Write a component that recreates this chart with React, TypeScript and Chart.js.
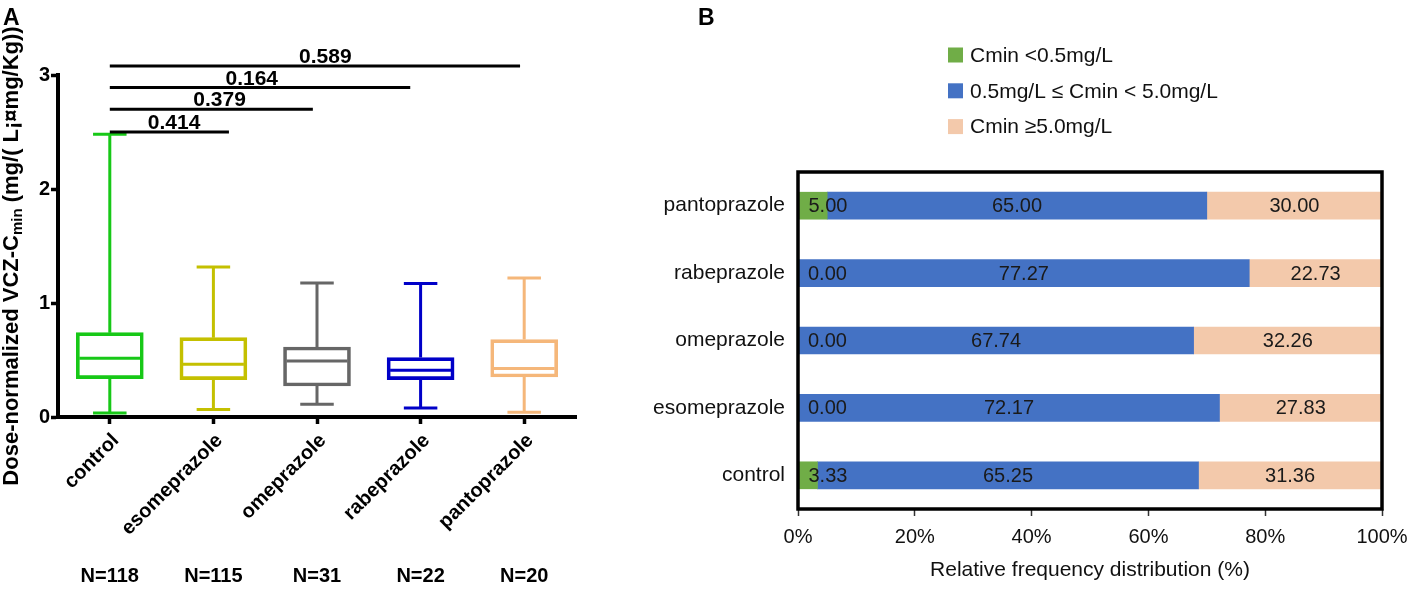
import React, { useEffect, useRef } from "react";
import { Chart, registerables } from "chart.js";
Chart.register(...registerables);

const FONT = "'Liberation Sans', Arial, Helvetica, sans-serif";

// ---------- Panel A data ----------
const groups = ["control", "esomeprazole", "omeprazole", "rabeprazole", "pantoprazole"];
const groupN = ["N=118", "N=115", "N=31", "N=22", "N=20"];
const whiskerMin = [0.035, 0.065, 0.111, 0.079, 0.041];
const q1 = [0.337, 0.328, 0.272, 0.328, 0.351];
const median = [0.515, 0.462, 0.491, 0.41, 0.425];
const q3 = [0.74, 0.696, 0.614, 0.521, 0.679];
const whiskerMax = [2.48, 1.316, 1.175, 1.17, 1.22];
const boxColors = ["#17c817", "#c4c000", "#666666", "#0000c8", "#f5b77a"];
const yMaxA = 3;

const sigLabels = ["0.414", "0.379", "0.164", "0.589"];
const sigFrom = [0, 0, 0, 0];
const sigTo = [1.15, 1.96, 2.9, 3.96];
const sigLevel = [2.5, 2.7, 2.89, 3.08];
const sigLabelAt = [0.62, 1.06, 1.37, 2.08];

const yTitleParts = ["Dose-normalized VCZ-C", "min", " (mg/( L\u00a1\u00a4mg/Kg))"];

// ---------- Panel B data ----------
const catsB = ["pantoprazole", "rabeprazole", "omeprazole", "esomeprazole", "control"];
const lowPct = [5.0, 0.0, 0.0, 0.0, 3.33];
const midPct = [65.0, 77.27, 67.74, 72.17, 65.25];
const highPct = [30.0, 22.73, 32.26, 27.83, 31.36];
const seriesNames = ["Cmin <0.5mg/L", "0.5mg/L \u2264 Cmin < 5.0mg/L", "Cmin \u22655.0mg/L"];
const seriesColors = ["#70ad47", "#4472c4", "#f3c9ab"];
const xTitleB = "Relative frequency distribution (%)";

export default function App() {
  const refA = useRef<HTMLCanvasElement>(null);
  const refB = useRef<HTMLCanvasElement>(null);

  useEffect(() => {
    // ----- Panel A plugins -----
    const boxPlugin = {
      id: "boxParts",
      afterDatasetsDraw(chart: any) {
        const ctx = chart.ctx;
        const y = chart.scales.y;
        const meta = chart.getDatasetMeta(0);
        meta.data.forEach((bar: any, i: number) => {
          const cx = bar.x;
          const w = bar.width;
          const lw = 3;
          ctx.save();
          ctx.strokeStyle = boxColors[i];
          ctx.lineWidth = lw;
          ctx.lineCap = "butt";
          const yMed = y.getPixelForValue(median[i]);
          const yQ1 = y.getPixelForValue(q1[i]);
          const yQ3 = y.getPixelForValue(q3[i]);
          const yMin = y.getPixelForValue(whiskerMin[i]);
          const yMax = y.getPixelForValue(whiskerMax[i]);
          ctx.beginPath();
          ctx.moveTo(cx - w / 2 + lw, yMed);
          ctx.lineTo(cx + w / 2 - lw, yMed);
          ctx.moveTo(cx, yQ3);
          ctx.lineTo(cx, yMax);
          ctx.moveTo(cx, yQ1);
          ctx.lineTo(cx, yMin);
          ctx.moveTo(cx - w / 4, yMax);
          ctx.lineTo(cx + w / 4, yMax);
          ctx.moveTo(cx - w / 4, yMin);
          ctx.lineTo(cx + w / 4, yMin);
          ctx.stroke();
          ctx.restore();
        });
      },
    };

    const extrasA = {
      id: "extrasA",
      afterDraw(chart: any) {
        const ctx = chart.ctx;
        const x = chart.scales.x;
        const y = chart.scales.y;
        ctx.save();
        // significance bars
        ctx.strokeStyle = "#000";
        ctx.fillStyle = "#000";
        ctx.lineWidth = 3;
        ctx.font = `bold 21px ${FONT}`;
        ctx.textAlign = "center";
        ctx.textBaseline = "alphabetic";
        sigLabels.forEach((lab, k) => {
          const yy = y.getPixelForValue(sigLevel[k]);
          ctx.beginPath();
          ctx.moveTo(x.getPixelForValue(sigFrom[k]), yy);
          ctx.lineTo(x.getPixelForValue(sigTo[k]), yy);
          ctx.stroke();
          ctx.fillText(lab, x.getPixelForValue(sigLabelAt[k]), yy - 3);
        });
        // N labels
        ctx.font = `bold 20px ${FONT}`;
        ctx.textBaseline = "middle";
        groupN.forEach((n, i) => {
          ctx.fillText(n, x.getPixelForValue(i), chart.height - 14);
        });
        // panel letter
        ctx.textAlign = "left";
        ctx.textBaseline = "alphabetic";
        ctx.font = `bold 23px ${FONT}`;
        ctx.fillText("A", 3, 25);
        // y title with subscript
        const main = `bold 22px ${FONT}`;
        const sub = `bold 15px ${FONT}`;
        ctx.font = main;
        const w1 = ctx.measureText(yTitleParts[0]).width;
        const w3 = ctx.measureText(yTitleParts[2]).width;
        ctx.font = sub;
        const w2 = ctx.measureText(yTitleParts[1]).width;
        const total = w1 + w2 + w3;
        ctx.translate(12, 256);
        ctx.rotate(-Math.PI / 2);
        ctx.textBaseline = "middle";
        let x0 = -total / 2;
        ctx.font = main;
        ctx.fillText(yTitleParts[0], x0, 0);
        x0 += w1;
        ctx.font = sub;
        ctx.fillText(yTitleParts[1], x0, 6);
        x0 += w2;
        ctx.font = main;
        ctx.fillText(yTitleParts[2], x0, 0);
        ctx.restore();
      },
    };

    const chartA = new Chart(refA.current as HTMLCanvasElement, {
      type: "bar",
      data: {
        labels: groups,
        datasets: [
          {
            data: groups.map((_, i) => [q1[i], q3[i]]) as any,
            backgroundColor: "rgba(0,0,0,0)",
            borderColor: boxColors,
            borderWidth: 3,
            borderSkipped: false,
            barThickness: 67,
          },
        ],
      },
      options: {
        animation: false,
        responsive: false,
        maintainAspectRatio: false,
        layout: { padding: { top: 75, right: 24, left: 0, bottom: 0 } },
        plugins: { legend: { display: false }, tooltip: { enabled: false } },
        scales: {
          x: {
            grid: {
              display: true,
              offset: false,
              drawOnChartArea: false,
              drawTicks: true,
              tickLength: 7,
              tickWidth: 3.5,
              tickColor: "#000",
            },
            border: { display: true, color: "#000", width: 4 },
            ticks: {
              color: "#000",
              font: { family: FONT, size: 20, weight: "bold" },
              minRotation: 45,
              maxRotation: 45,
              padding: 5,
              labelOffset: 6,
            },
            afterFit: (s: any) => {
              s.height = 173;
              s.paddingLeft = 0;
              s.paddingRight = 0;
            },
          },
          y: {
            min: 0,
            max: yMaxA,
            ticks: {
              stepSize: 1,
              color: "#000",
              font: { family: FONT, size: 20, weight: "bold" },
              padding: 1,
            },
            grid: {
              display: true,
              drawOnChartArea: false,
              drawTicks: true,
              tickLength: 7,
              tickWidth: 3.5,
              tickColor: "#000",
            },
            border: { display: true, color: "#000", width: 4 },
            afterFit: (s: any) => {
              s.width = 58;
              s.paddingTop = 0;
              s.paddingBottom = 0;
            },
          },
        },
      } as any,
      plugins: [boxPlugin, extrasA],
    });

    // ----- Panel B plugins -----
    const labelsB = {
      id: "labelsB",
      afterDatasetsDraw(chart: any) {
        const ctx = chart.ctx;
        ctx.save();
        ctx.font = `20px ${FONT}`;
        ctx.fillStyle = "#1a1a1a";
        ctx.textBaseline = "middle";
        chart.data.datasets.forEach((ds: any, di: number) => {
          const meta = chart.getDatasetMeta(di);
          meta.data.forEach((bar: any, i: number) => {
            const v = ds.data[i] as number;
            const txt = v.toFixed(2);
            if (di === 0) {
              ctx.textAlign = "left";
              ctx.fillText(txt, Math.min(bar.base, bar.x) + 10, bar.y + 1);
            } else {
              ctx.textAlign = "center";
              ctx.fillText(txt, (bar.base + bar.x) / 2, bar.y + 1);
            }
          });
        });
        ctx.restore();
      },
    };

    const frameB = {
      id: "frameB",
      afterDraw(chart: any) {
        const ctx = chart.ctx;
        const ca = chart.chartArea;
        ctx.save();
        ctx.strokeStyle = "#000";
        ctx.lineWidth = 3.5;
        ctx.strokeRect(ca.left, ca.top, ca.right - ca.left, ca.bottom - ca.top);
        // legend
        const items = chart.data.datasets;
        ctx.font = `21px ${FONT}`;
        ctx.textBaseline = "middle";
        ctx.textAlign = "left";
        items.forEach((ds: any, k: number) => {
          const yy = 55 + k * 35.8;
          ctx.fillStyle = ds.backgroundColor;
          ctx.fillRect(308, yy - 7.5, 15, 15);
          ctx.fillStyle = "#111";
          ctx.fillText(ds.label, 330, yy + 1);
        });
        // panel letter
        ctx.fillStyle = "#000";
        ctx.font = `bold 23px ${FONT}`;
        ctx.textBaseline = "alphabetic";
        ctx.fillText("B", 58, 25);
        ctx.restore();
      },
    };

    const chartB = new Chart(refB.current as HTMLCanvasElement, {
      type: "bar",
      data: {
        labels: catsB,
        datasets: [
          { label: seriesNames[0], data: lowPct, backgroundColor: seriesColors[0], barThickness: 27 },
          { label: seriesNames[1], data: midPct, backgroundColor: seriesColors[1], barThickness: 27 },
          { label: seriesNames[2], data: highPct, backgroundColor: seriesColors[2], barThickness: 27 },
        ],
      },
      options: {
        indexAxis: "y",
        animation: false,
        responsive: false,
        maintainAspectRatio: false,
        layout: { padding: { top: 172, right: 36, left: 0, bottom: 0 } },
        plugins: { legend: { display: false }, tooltip: { enabled: false } },
        scales: {
          x: {
            stacked: true,
            min: 0,
            max: 100,
            ticks: {
              stepSize: 20,
              color: "#111",
              font: { family: FONT, size: 20 },
              padding: 9.5,
              callback: (v: any) => v + "%",
            },
            grid: {
              display: true,
              drawOnChartArea: false,
              drawTicks: true,
              tickLength: 7,
              tickWidth: 1.5,
              tickColor: "#333",
            },
            border: { display: false },
            title: {
              display: true,
              text: xTitleB,
              color: "#111",
              font: { family: FONT, size: 21 },
              padding: { top: 0, bottom: 7.4 },
            },
            afterFit: (s: any) => {
              s.height = 81;
              s.paddingLeft = 0;
              s.paddingRight = 0;
            },
          },
          y: {
            stacked: true,
            ticks: { color: "#111", font: { family: FONT, size: 21 }, padding: 13 },
            grid: { display: false, drawTicks: false },
            border: { display: false },
            afterFit: (s: any) => {
              s.width = 158;
              s.paddingTop = 0;
              s.paddingBottom = 0;
            },
          },
        },
      } as any,
      plugins: [labelsB, frameB],
    });

    return () => {
      chartA.destroy();
      chartB.destroy();
    };
  }, []);

  return (
    <div
      style={{
        position: "fixed",
        left: 0,
        top: 0,
        width: 1418,
        height: 590,
        background: "#fff",
        overflow: "hidden",
      }}
    >
      <canvas
        ref={refA}
        width={600}
        height={590}
        style={{ position: "absolute", left: 0, top: 0, width: 600, height: 590 }}
      />
      <canvas
        ref={refB}
        width={778}
        height={590}
        style={{ position: "absolute", left: 640, top: 0, width: 778, height: 590 }}
      />
    </div>
  );
}
